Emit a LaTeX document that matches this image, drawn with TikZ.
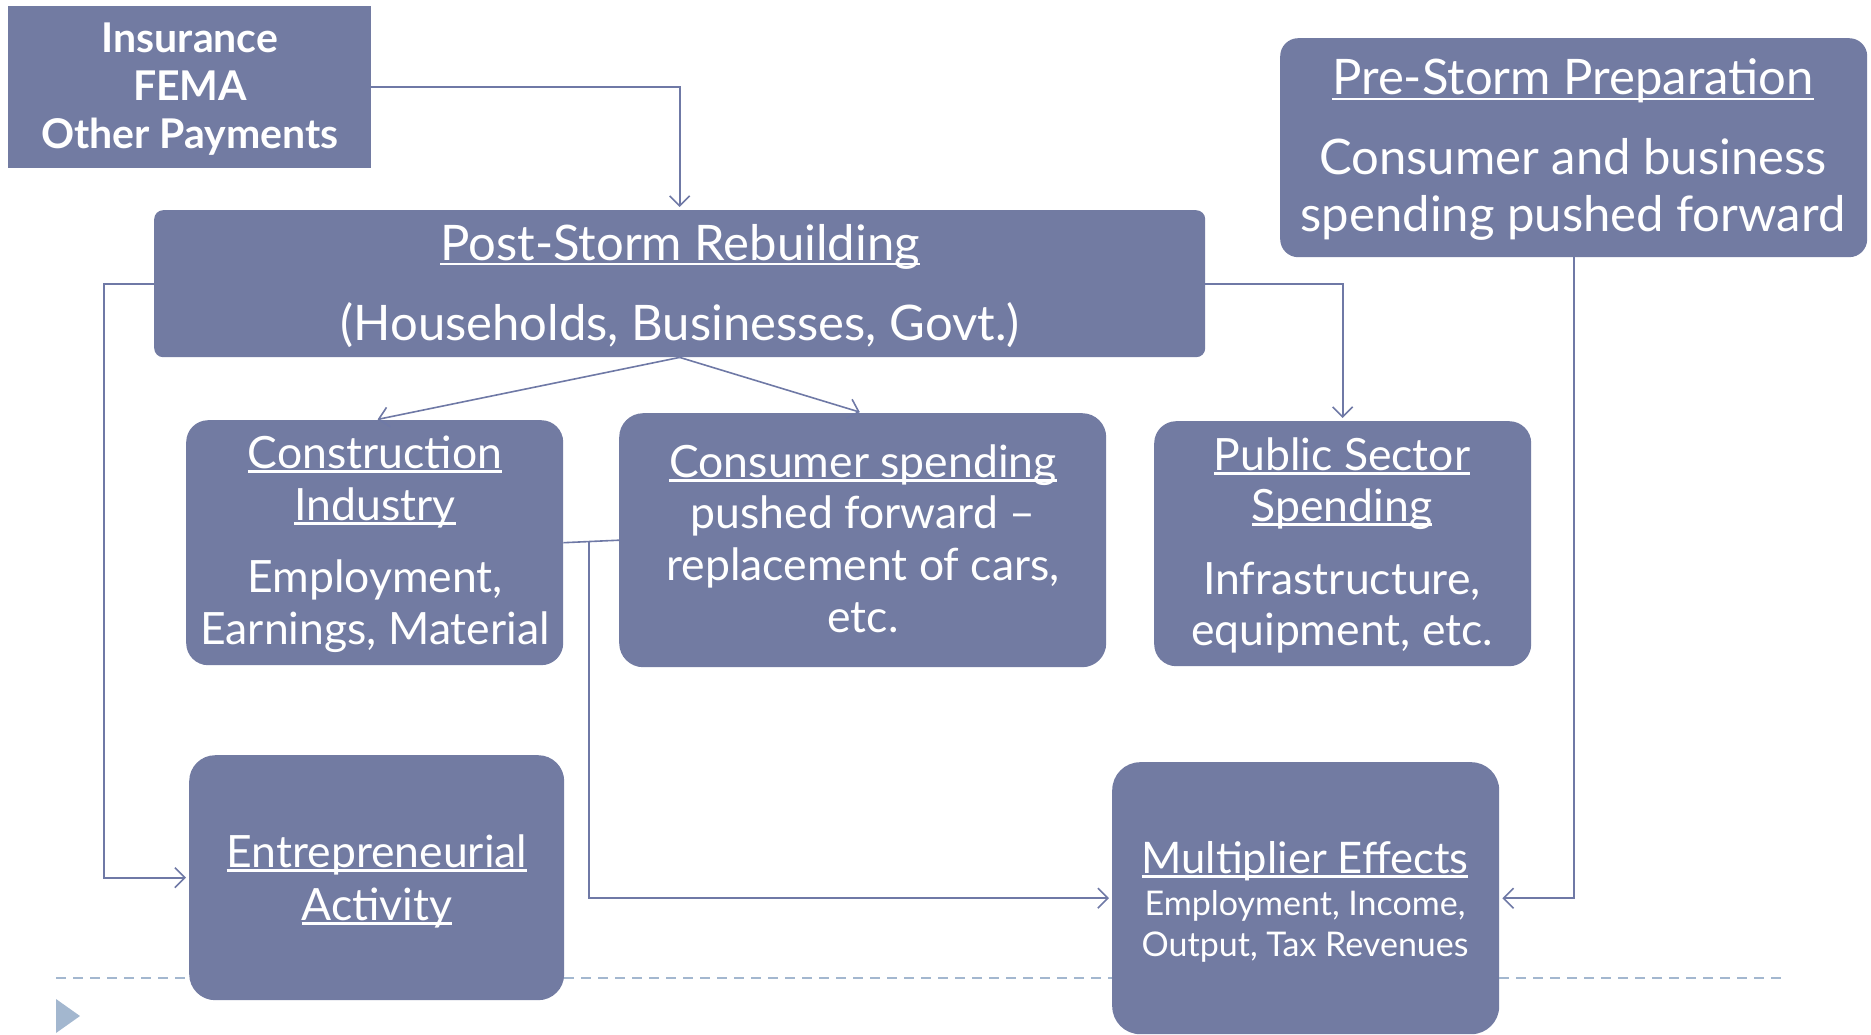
\documentclass[tikz,border=0pt]{standalone}
\usepackage{fontspec}
\setmainfont{Lato}
\usetikzlibrary{arrows.meta}

\definecolor{boxfill}{HTML}{727BA2}
\definecolor{wire}{HTML}{6F79A6}
\definecolor{guide}{HTML}{A3B7CF}

% underline drawn through the descenders, as in slide text
\newsavebox\ulinebox
\newcommand\ulinetext[1]{\sbox\ulinebox{#1}\rlap{\rule[-0.11em]{\wd\ulinebox}{0.055em}}\usebox\ulinebox}

\begin{document}
\begin{tikzpicture}[x=1pt,y=-1pt,
  panel/.style={fill=boxfill, draw=none, rectangle, inner sep=0pt, anchor=north west},
  txt/.style={text=white, inner sep=0pt, anchor=base},
  bigfont/.style={font=\fontsize{49}{58}\selectfont},
  midfont/.style={font=\fontsize{44.5}{52}\selectfont},
  headfont/.style={font=\fontsize{43.5}{52}\selectfont},
  smallfont/.style={font=\fontsize{34}{40}\selectfont},
  boldfont/.style={font=\fontsize{41}{48}\selectfont\bfseries},
  wireline/.style={draw=wire, line width=1.6pt},
  conn/.style={wireline, -{Straight Barb[length=10pt,width=20pt,line width=1.6pt]}, shorten >=3pt}
]
\useasboundingbox (0,0) rectangle (1871,1035);

% boxes
\node[panel, minimum width=363, minimum height=162] (ins) at (8,6) {};
\node[panel, rounded corners=9pt, minimum width=1051, minimum height=147] (post) at (154,210) {};
\node[panel, rounded corners=18pt, minimum width=587, minimum height=219] (pre) at (1280,38) {};
\node[panel, rounded corners=22pt, minimum width=377, minimum height=245] (build) at (186,420) {};
\node[panel, rounded corners=24pt, minimum width=487, minimum height=254] (spend) at (619,413) {};
\node[panel, rounded corners=22pt, minimum width=377, minimum height=245] (pub) at (1154,421) {};
\node[panel, rounded corners=26pt, minimum width=375, minimum height=245] (ent) at (189,755) {};
\node[panel, rounded corners=28pt, minimum width=387, minimum height=272] (mult) at (1112,762) {};

% dashed guide and bullet triangle at the foot
\draw[guide, line width=1.6pt, dash pattern=on 10pt off 7pt] (56,978) -- (189,978);
\draw[guide, line width=1.6pt, dash pattern=on 10pt off 7pt] (564,978) -- (1112,978);
\draw[guide, line width=1.6pt, dash pattern=on 10pt off 7pt] (1499,978) -- (1784,978);
\fill[guide] (56,999) -- (80,1016) -- (56,1033) -- cycle;

% texts
\node[txt, boldfont] (ins1) at (190,53) {Insurance};
\node[txt, boldfont] (ins2) at (190,101) {FEMA};
\node[txt, boldfont] (ins3) at (190,149) {Other Payments};

\node[txt, bigfont] (post1) at (680,260) {\ulinetext{Post-Storm Rebuilding}};
\node[txt, bigfont] (post2) at (680,340) {(Households, Businesses, Govt.)};

\node[txt, bigfont] (pre1) at (1573,95) {\ulinetext{Pre-Storm Preparation}};
\node[txt, bigfont] (pre2) at (1573,175) {Consumer and business};
\node[txt, bigfont] (pre3) at (1573,232) {spending pushed forward};

\node[txt, midfont] (build1) at (375,468) {\ulinetext{Construction}};
\node[txt, midfont] (build2) at (375,520) {\ulinetext{Industry}};
\node[txt, midfont] (build3) at (375,592) {Employment,};
\node[txt, midfont] (build4) at (375,644) {Earnings, Material};

\node[txt, midfont] (spend1) at (863,477) {\ulinetext{Consumer spending}};
\node[txt, midfont] (spend2) at (863,528) {pushed forward –};
\node[txt, midfont] (spend3) at (863,580) {replacement of cars,};
\node[txt, midfont] (spend4) at (863,632) {etc.};

\node[txt, midfont] (pub1) at (1342,470) {\ulinetext{Public Sector}};
\node[txt, midfont] (pub2) at (1342,521) {\ulinetext{Spending}};
\node[txt, midfont] (pub3) at (1342,594) {Infrastructure,};
\node[txt, midfont] (pub4) at (1342,645) {equipment, etc.};

\node[txt, midfont] (ent1) at (377,867) {\ulinetext{Entrepreneurial}};
\node[txt, midfont] (ent2) at (377,920) {\ulinetext{Activity}};

\node[txt, headfont] (mult1) at (1305,873) {\ulinetext{Multiplier Effects}};
\node[txt, smallfont] (mult2) at (1305,915) {Employment, Income,};
\node[txt, smallfont] (mult3) at (1305,956) {Output, Tax Revenues};

% connectors
\coordinate (junction) at (589,542);
\draw[conn] (ins.east) -| (post.north);
\draw[conn] (post.west) -- ([xshift=-50pt]post.west) |- (ent.west);
\draw[conn] (post.south) -- (build.north);
\draw[conn] (post.south) -- (spend.north);
\draw[conn] (post.east) -| (pub.north);
\draw[conn] (pre.south) |- (mult.east);
\draw[wireline] (build.east) -- (spend.west);
\draw[conn] (junction) |- (mult.west);
\end{tikzpicture}
\end{document}
